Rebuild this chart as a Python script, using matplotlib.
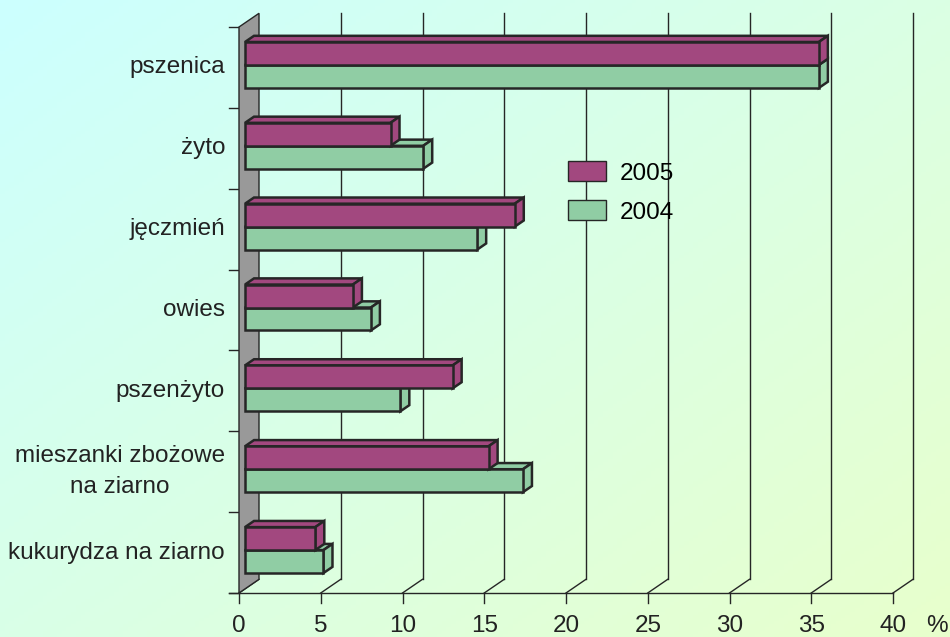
import numpy as np
import matplotlib.pyplot as plt
from matplotlib.patches import Polygon, Patch

plt.rcParams['font.family'] = ['Liberation Sans', 'DejaVu Sans']

# dane
kategorie = ['pszenica', 'żyto', 'jęczmień', 'owies', 'pszenżyto',
             'mieszanki zbożowe\nna ziarno', 'kukurydza na ziarno']
val_2005 = [35.1, 8.9, 16.5, 6.6, 12.7, 14.9, 4.3]
val_2004 = [35.1, 10.9, 14.2, 7.7, 9.5, 17.0, 4.8]
x_ticks = [0, 5, 10, 15, 20, 25, 30, 35, 40]

kol_2005 = '#a2487f'
kol_2004 = '#90cda4'
kol_linia = '#262626'
kol_tekst = '#222222'
fs = 17.5

W, H = 950, 637
fig = plt.figure(figsize=(W / 100, H / 100), dpi=100)

# tlo z gradientem
bg = fig.add_axes([0, 0, 1, 1], zorder=-10)
gx, gy = np.meshgrid(np.linspace(0, 1, 200), np.linspace(0, 1, 200))
t = np.clip((gx * 0.85 + gy * 0.75) / 1.6, 0, 1)[..., None]
c0 = np.array([204, 255, 255]) / 255
c1 = np.array([232, 255, 204]) / 255
bg.imshow(c0 * (1 - t) + c1 * t, aspect='auto', extent=[0, 1, 0, 1], origin='upper')
bg.axis('off')

# os glowna (plaszczyzna przednia)
x0, x1 = 239, 893
y0, y1 = 593, 27
ax = fig.add_axes([x0 / W, (H - y0) / H, (x1 - x0) / W, (y0 - y1) / H])
ax.set_xlim(0, 40)
ax.set_ylim(0, 7)
ax.axis('off')

px_x = (x1 - x0) / 40.0      # px na jednostke
px_y = (y0 - y1) / 7.0
ddx = 20 / px_x               # glebokosc 3D
ddy = 13.7 / px_y
n = len(kategorie)

# linie siatki na tylnej scianie
for v in x_ticks:
    ax.plot([v, v + ddx], [0, ddy], color=kol_linia, lw=1, clip_on=False, zorder=1)
    if v > 0:
        ax.plot([v + ddx, v + ddx], [ddy, 7 + ddy], color=kol_linia, lw=1, clip_on=False, zorder=1)
    ax.plot([v, v], [0, -10 / px_y], color=kol_linia, lw=1, clip_on=False, zorder=1)
    ax.text(v, -33 / px_y, str(v), ha='center', va='center', fontsize=fs, color=kol_tekst)
ax.text(40 + 44 / px_x, -33 / px_y, '%', ha='center', va='center', fontsize=fs, color=kol_tekst)
ax.plot([-10 / px_x, 40], [0, 0], color=kol_linia, lw=1, clip_on=False, zorder=1)

# sciana boczna
ax.add_patch(Polygon([(0, 0), (0, 7), (ddx, 7 + ddy), (ddx, ddy)], closed=True,
                     facecolor='#999999', edgecolor=kol_linia, lw=1, clip_on=False, zorder=2))
for k in range(n + 1):
    ax.plot([-10 / px_x, 0], [k, k], color=kol_linia, lw=1, clip_on=False, zorder=1)


def slupek(v, yb, h, kolor, z):
    f1, f2 = 0.3, 0.75
    ox1, oy1 = f1 * ddx, f1 * ddy
    ox2, oy2 = f2 * ddx, f2 * ddy
    kw = dict(closed=True, edgecolor=kol_linia, lw=1.8, clip_on=False, zorder=z, joinstyle='miter')
    front = [(ox1, yb + oy1), (v + ox1, yb + oy1), (v + ox1, yb + h + oy1), (ox1, yb + h + oy1)]
    top = [(ox1, yb + h + oy1), (v + ox1, yb + h + oy1), (v + ox2, yb + h + oy2), (ox2, yb + h + oy2)]
    side = [(v + ox1, yb + oy1), (v + ox2, yb + oy2), (v + ox2, yb + h + oy2), (v + ox1, yb + h + oy1)]
    ax.add_patch(Polygon(top, facecolor=kolor, **kw))
    ax.add_patch(Polygon(side, facecolor=kolor, **kw))
    ax.add_patch(Polygon(front, facecolor=kolor, **kw))


h = 0.284
for i, kat in enumerate(kategorie):
    yb = n - i - 1
    c = yb + 0.48
    slupek(val_2004[i], c - h, h, kol_2004, 3 + i * 0.01)
    slupek(val_2005[i], c, h, kol_2005, 4 + i * 0.01)
    ax.text(-14 / px_x, yb + 0.5, kat, ha='right', va='center', multialignment='center',
            fontsize=fs, color=kol_tekst, linespacing=1.5)

# legenda
fpx = fs * 100 / 72
uchwyty = [Patch(facecolor=kol_2005, edgecolor=kol_linia, lw=1),
           Patch(facecolor=kol_2004, edgecolor=kol_linia, lw=1)]
fig.legend(uchwyty, ['2005', '2004'], loc='upper left', bbox_to_anchor=(568 / W, 1 - 161 / H),
           frameon=False, fontsize=fs, handlelength=38 / fpx, handleheight=22 / fpx,
           handletextpad=14 / fpx, labelspacing=0.645, borderpad=0, borderaxespad=0)

fig.savefig('out.png', dpi=100)
